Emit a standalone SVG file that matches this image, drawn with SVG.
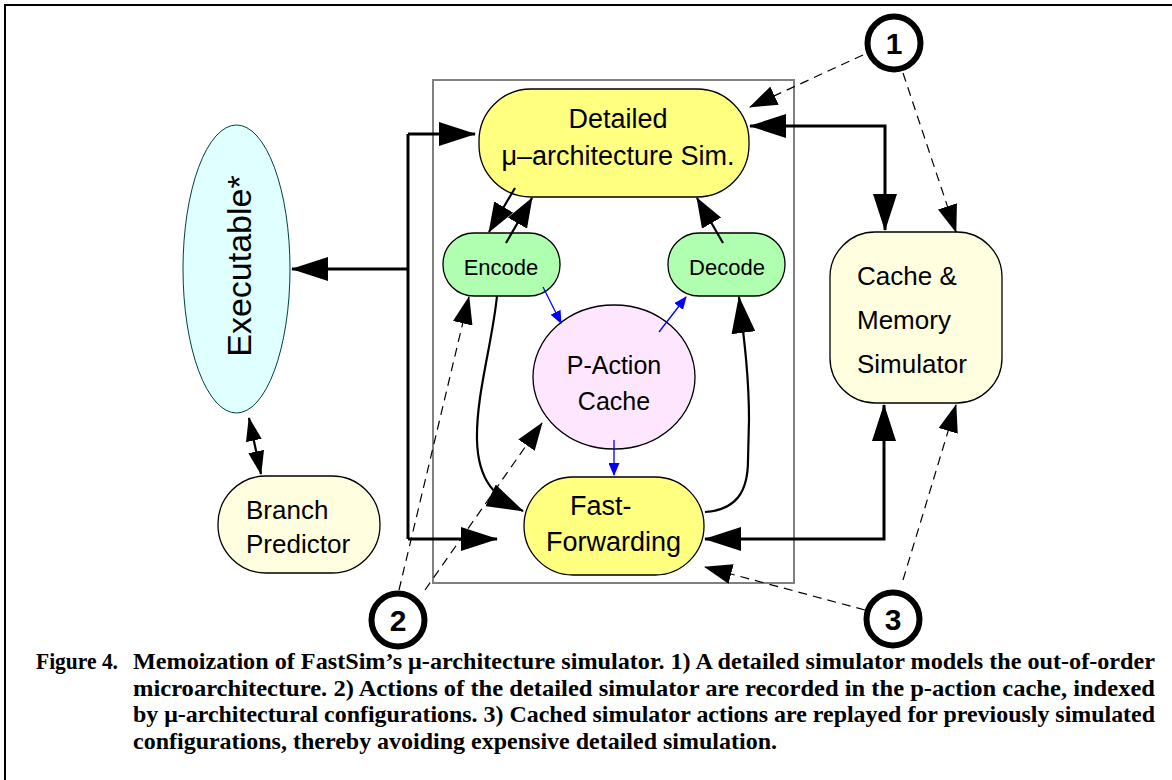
<svg xmlns="http://www.w3.org/2000/svg" width="1172" height="780" viewBox="0 0 1172 780">
<style>
.lbl{font-family:"Liberation Sans",Arial,sans-serif;fill:#000}
.node{stroke:#000;stroke-width:1.3}
.thick{fill:none;stroke:#000;stroke-width:3}
.mid{fill:none;stroke:#000;stroke-width:2.2}
.dash{fill:none;stroke:#000;stroke-width:1.2;stroke-dasharray:9,6}
.blue{fill:none;stroke:#0000ff;stroke-width:1.3}
.num{fill:#fff;stroke:#000;stroke-width:6}
.numt{font-family:"Liberation Sans",Arial,sans-serif;font-weight:bold;font-size:30px;text-anchor:middle}
.cap{font-family:"Liberation Serif","Times New Roman",serif;font-weight:bold;font-size:23px}
</style>
<defs>
<marker id="big" markerUnits="userSpaceOnUse" markerWidth="37" markerHeight="24" refX="36" refY="12" orient="auto-start-reverse"><path d="M0,0 L37,12 L0,24 z" fill="#000"/></marker>
<marker id="med" markerUnits="userSpaceOnUse" markerWidth="30" markerHeight="22" refX="29" refY="11" orient="auto-start-reverse"><path d="M0,0 L30,11 L0,22 z" fill="#000"/></marker>
<marker id="sm" markerUnits="userSpaceOnUse" markerWidth="24" markerHeight="16" refX="23" refY="8" orient="auto-start-reverse"><path d="M0,0 L24,8 L0,16 z" fill="#000"/></marker>
<marker id="dsh" markerUnits="userSpaceOnUse" markerWidth="28" markerHeight="20" refX="27" refY="10" orient="auto"><path d="M0,0 L28,10 L0,20 z" fill="#000"/></marker>
<marker id="bl" markerUnits="userSpaceOnUse" markerWidth="13" markerHeight="11" refX="12" refY="5.5" orient="auto"><path d="M0,0 L13,5.5 L0,11 z" fill="#0000ff"/></marker>
</defs>
<rect width="1172" height="780" fill="#fff"/>
<path d="M5,780 L5,5 L1172,5" fill="none" stroke="#000" stroke-width="2"/>
<rect x="433" y="80" width="361" height="503" fill="none" stroke="#808080" stroke-width="2"/>

<g id="executable">
<ellipse cx="236.5" cy="269" rx="53.5" ry="144" fill="#e0ffff" stroke="#004040" stroke-width="1"/>
<text class="lbl" font-size="34" text-anchor="middle" transform="translate(251,266) rotate(-90)">Executable*</text>
</g>
<g id="branch">
<rect class="node" x="218" y="476" width="162" height="97" rx="48" fill="#ffffe0"/>
<text class="lbl" font-size="26" x="246" y="519">Branch</text>
<text class="lbl" font-size="26" x="246" y="553">Predictor</text>
</g>
<g id="detailed">
<rect class="node" x="479" y="89" width="270" height="108" rx="52" fill="#ffff80"/>
<text class="lbl" font-size="27" text-anchor="middle" x="618" y="128">Detailed</text>
<text class="lbl" font-size="27" text-anchor="middle" x="618" y="165">μ–architecture Sim.</text>
</g>
<g id="encode">
<rect class="node" x="443" y="233" width="117" height="63" rx="31" fill="#b0ffb0"/>
<text class="lbl" font-size="22" text-anchor="middle" x="501" y="275">Encode</text>
</g>
<g id="decode">
<rect class="node" x="668" y="233" width="117" height="63" rx="31" fill="#b0ffb0"/>
<text class="lbl" font-size="22" text-anchor="middle" x="727" y="275">Decode</text>
</g>
<g id="paction">
<ellipse class="node" cx="614" cy="377" rx="81" ry="72" fill="#ffe6ff"/>
<text class="lbl" font-size="25" text-anchor="middle" x="614" y="374">P-Action</text>
<text class="lbl" font-size="25" text-anchor="middle" x="614" y="410">Cache</text>
</g>
<g id="fastfwd">
<rect class="node" x="524" y="477" width="180" height="98" rx="49" fill="#ffff80"/>
<text class="lbl" font-size="27" x="570" y="515">Fast-</text>
<text class="lbl" font-size="27" x="546" y="551">Forwarding</text>
</g>
<g id="cachemem">
<rect class="node" x="830" y="232" width="172" height="171" rx="45" fill="#ffffe0"/>
<text class="lbl" font-size="26" x="857" y="285">Cache &amp;</text>
<text class="lbl" font-size="26" x="857" y="329">Memory</text>
<text class="lbl" font-size="26" x="857" y="373">Simulator</text>
</g>
<g id="n1">
<circle class="num" cx="894" cy="43" r="26.5"/>
<text class="numt" x="894" y="54">1</text>
</g>
<g id="n2">
<circle class="num" cx="398" cy="620" r="26.5"/>
<text class="numt" x="398" y="631">2</text>
</g>
<g id="n3">
<circle class="num" cx="893" cy="619" r="26.5"/>
<text class="numt" x="893" y="630">3</text>
</g>

<g id="connectors">
<path class="thick" d="M408,134 L408,539"/>
<path class="thick" d="M408,134 L475,134" marker-end="url(#big)"/>
<path class="thick" d="M408,269 L292,269" marker-end="url(#big)"/>
<path class="thick" d="M408,539 L497,539" marker-end="url(#big)"/>
<path class="thick" d="M750,126 L885,126 L885,230" marker-start="url(#big)" marker-end="url(#big)"/>
<path class="thick" d="M705,539 L884,539 L884,405" marker-start="url(#big)" marker-end="url(#big)"/>
<path class="mid" d="M515,188 L489,232" marker-end="url(#med)"/>
<path class="mid" d="M506,243 L532,198" marker-end="url(#med)"/>
<path class="mid" d="M723,243 L697,198" marker-end="url(#med)"/>
<path class="mid" d="M249,418 L261,474" marker-start="url(#sm)" marker-end="url(#sm)"/>
<path class="mid" d="M497,296 C492,345 476,395 477,440 C478,482 496,498 523,511" marker-end="url(#big)"/>
<path class="mid" d="M705,512 C736,510 748,492 748,460 L749,420 C749,380 745,345 739,297" marker-end="url(#big)"/>
<path class="blue" d="M543,287 L561,323" marker-end="url(#bl)"/>
<path class="blue" d="M659,332 L686,297" marker-end="url(#bl)"/>
<path class="blue" d="M614,440 L614,475" marker-end="url(#bl)"/>
<path class="dash" d="M863,55 L750,107" marker-end="url(#dsh)"/>
<path class="dash" d="M903,73 L956,232" marker-end="url(#dsh)"/>
<path class="dash" d="M399,590 L469,297" marker-end="url(#dsh)"/>
<path class="dash" d="M425,590 L542,423" marker-end="url(#dsh)"/>
<path class="dash" d="M865,610 L705,567" marker-end="url(#dsh)"/>
<path class="dash" d="M903,580 L956,405" marker-end="url(#dsh)"/>
</g>

<g id="caption">
<text class="cap" x="36" y="669" textLength="82" lengthAdjust="spacingAndGlyphs">Figure 4.</text>
<text class="cap" x="133" y="669" textLength="1022" lengthAdjust="spacingAndGlyphs">Memoization of FastSim’s μ-architecture simulator. 1) A detailed simulator models the out-of-order</text>
<text class="cap" x="133" y="696" textLength="1022" lengthAdjust="spacingAndGlyphs">microarchitecture. 2) Actions of the detailed simulator are recorded in the p-action cache, indexed</text>
<text class="cap" x="133" y="722" textLength="1022" lengthAdjust="spacingAndGlyphs">by μ-architectural configurations. 3) Cached simulator actions are replayed for previously simulated</text>
<text class="cap" x="133" y="749" textLength="644" lengthAdjust="spacingAndGlyphs">configurations, thereby avoiding expensive detailed simulation.</text>
</g>
</svg>
